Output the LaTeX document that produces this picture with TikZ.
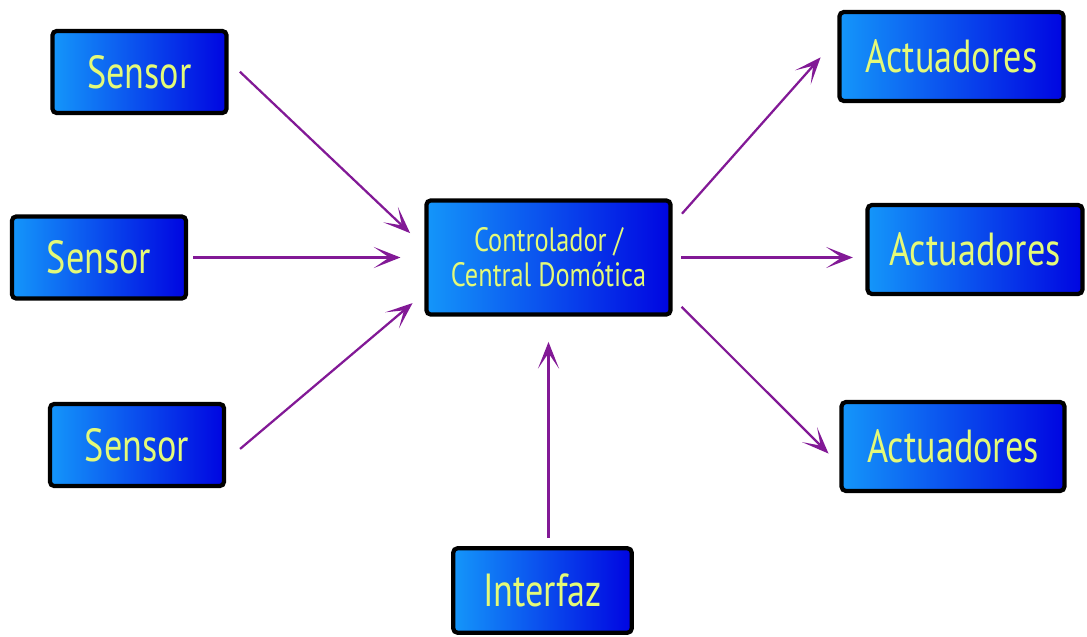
\documentclass[tikz,border=0pt]{standalone}
\usepackage{fontspec}
\setmainfont{PT Sans}[FakeStretch=0.78]
\usepackage{tikz}
\usepackage{xcolor}
\usetikzlibrary{arrows.meta}

\definecolor{boxlight}{RGB}{20,150,250}
\definecolor{boxdark}{RGB}{0,5,225}
\definecolor{labelyellow}{RGB}{228,250,120}
\definecolor{arrowpurple}{RGB}{130,25,150}

\tikzset{
	unit/.style={draw=black,line width=3pt,rounded corners=3pt,left color=boxlight,right color=boxdark,text=labelyellow,minimum width=4.35cm,minimum height=2.05cm,font=\fontsize{33}{35}\selectfont},
	link/.style={draw=arrowpurple,line width=1.6pt,-{Stealth[length=19pt,width=15pt,inset=11pt]}}
}

\begin{document}
\begin{tikzpicture}[x=0.025cm,y=-0.025cm]
		\useasboundingbox (0,0) rectangle (1087,637);
	
		% draw sensors on the left
		\foreach \i/\x/\y in {1/139.5/72,2/99/257.5,3/137/445}
		{
			\node(sensor-\i) at (\x,\y) [unit] {Sensor};
		}
		
		% draw actuators on the right
		\foreach \i/\x/\y/\w in {1/951.5/56.5/5.6,2/975/249.5/5.37,3/953/446.5/5.57}
		{
			\node(act-\i) at (\x,\y) [unit,minimum width=\w cm,minimum height=2.22cm] {Actuadores};
		}
		
		% draw central controller
		\node (ctrl) at (548.5,257.5) [unit,minimum width=6.1cm,minimum height=2.85cm,align=center,font=\fontsize{24}{25}\selectfont] {Controlador /\\Central Domótica};
		
		% draw interface
		\node (iface) at (542.5,590.5) [unit,minimum width=4.46cm,minimum height=2.11cm] {Interfaz};
		
		% draw lines from sensors to controller
		\draw[link,shorten <=11pt,shorten >=14pt] (sensor-1.7) to (ctrl.175);
		\draw[link,shorten <=3.5pt,shorten >=17pt] (sensor-2.east) to (ctrl.west);
		\draw[link,shorten <=13pt,shorten >=11pt] (sensor-3.350) to (ctrl.196);
		
		% draw lines from controller to actuators
		\draw[link,shorten <=10pt,shorten >=18pt] (ctrl.15) to (act-1.171);
		\draw[link,shorten <=6pt,shorten >=9pt] (ctrl.east) to (ctrl.east -| act-2.west);
		\draw[link,shorten <=9pt,shorten >=11pt] (ctrl.342) to (act-3.189);
		
		% draw line from interface to controller
		\draw[link,shorten <=6pt,shorten >=18pt] (iface.north -| ctrl.south) to (ctrl.south);
	\end{tikzpicture}
\end{document}
